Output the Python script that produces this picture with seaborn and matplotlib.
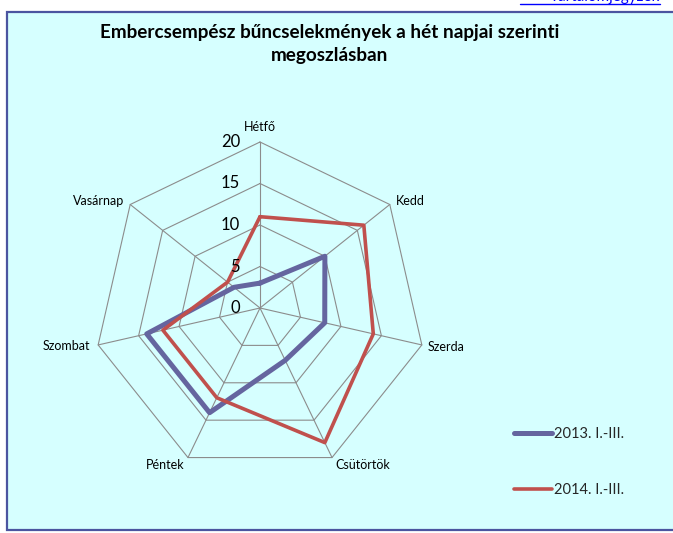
import numpy as np
import pandas as pd
import matplotlib
matplotlib.use('Agg')
import matplotlib.pyplot as plt
import matplotlib.transforms as mtransforms
from matplotlib.patches import Rectangle
from matplotlib.lines import Line2D
import seaborn as sns

# data
days = ['Hétfő', 'Kedd', 'Szerda', 'Csütörtök', 'Péntek', 'Szombat', 'Vasárnap']
y2013 = [3, 10, 8, 7, 14, 14, 4]
y2014 = [11, 16, 14, 18, 12, 12, 5]
series_names = ['2013. I.-III.', '2014. I.-III.']
rticks = [0, 5, 10, 15, 20]

colors = {'2013. I.-III.': '#65659f', '2014. I.-III.': '#c0504d'}
widths = {'2013. I.-III.': 3.6, '2014. I.-III.': 2.6}
grid_col = '#8c8c8c'

sns.set_theme(style='white')
plt.rcParams['font.family'] = ['Lato', 'DejaVu Sans']

W, H = 673, 533
fig = plt.figure(figsize=(W / 100, H / 100), dpi=100)
fig.patch.set_facecolor('white')

# chart area box
fig.patches.append(Rectangle((6.5 / W, 3 / H), 1, (520.7 - 3) / H, transform=fig.transFigure,
                             facecolor='#d6ffff', edgecolor='#4b55a0', lw=1.6, zorder=-5))

# link text at the very top (mostly cut off, as in the original)
fig.text(660 / W, 1 - 1.5 / H, 'Tartalomjegyzék', ha='right', va='baseline',
         color='#0000ff', fontsize=11)
fig.add_artist(Line2D([520 / W, 660 / W], [1 - 3.5 / H, 1 - 3.5 / H], color='#0000ff', lw=1))

fig.text(330 / W, 1 - 44 / H, 'Embercsempész bűncselekmények a hét napjai szerinti\nmegoszlásban',
         ha='center', va='center', multialignment='center', fontsize=13.6,
         fontweight='bold', linespacing=1.4, color='black')

# radar axes, centre (260, 308), radius 166 px
cx, cy, R = 260, 308, 166
ax = fig.add_axes([(cx - R) / W, (H - cy - R) / H, 2 * R / W, 2 * R / H], projection='polar')
ax.set_facecolor('none')
ax.set_theta_zero_location('N')
ax.set_theta_direction(-1)
ax.set_ylim(0, 20)
ax.grid(False)
ax.spines['polar'].set_visible(False)

theta = np.arange(len(days)) * 2 * np.pi / len(days)
theta_c = np.append(theta, theta[0])

# polygon grid
for r in rticks[1:]:
    ax.plot(theta_c, [r] * len(theta_c), color=grid_col, lw=0.8, clip_on=False, zorder=1)
for t in theta:
    ax.plot([t, t], [0, rticks[-1]], color=grid_col, lw=0.8, clip_on=False, zorder=1)

# series
rows = []
for name, vals in zip(series_names, [y2013, y2014]):
    vc = list(vals) + [vals[0]]
    for t, v in zip(theta_c, vc):
        rows.append({'theta': t, 'value': v, 'series': name})
df = pd.DataFrame(rows)
sns.lineplot(data=df, x='theta', y='value', hue='series', size='series',
             palette=colors, sizes=widths, estimator=None, sort=False,
             legend=False, ax=ax, zorder=3, clip_on=False)
ax.set_xlabel('')
ax.set_ylabel('')
ax.set_ylim(0, 20)
ax.set_xticks([])
ax.set_yticks([])
ax.grid(False)

# radial tick labels left of the Hétfő spoke
off = mtransforms.offset_copy(ax.transData, fig=fig, x=-20, y=0, units='dots')
for r in rticks:
    ax.text(0, r, str(r), transform=off, ha='right', va='center', fontsize=12, color='black')

# category labels
lab_pos = [('center', 'bottom', 0, 9),
           ('left', 'center', 6, 4),
           ('left', 'center', 6, -2),
           ('left', 'top', 3, -1),
           ('right', 'top', -3, -1),
           ('right', 'center', -8, -1),
           ('right', 'center', -6, 4)]
for t, name, (ha, va, dx, dy) in zip(theta, days, lab_pos):
    tr = mtransforms.offset_copy(ax.transData, fig=fig, x=dx, y=dy, units='dots')
    ax.text(t, 20, name, transform=tr, ha=ha, va=va, fontsize=9, color='black')

# legend
handles = [Line2D([], [], color=colors[n], lw=widths[n], solid_capstyle='round') for n in series_names]
fig.legend(handles, series_names, loc='center left', bbox_to_anchor=(507 / W, 1 - 462 / H),
           frameon=False, fontsize=10.5, handlelength=2.6, handletextpad=0.15,
           labelspacing=2.9, borderpad=0)

fig.savefig('out.png', dpi=100)
